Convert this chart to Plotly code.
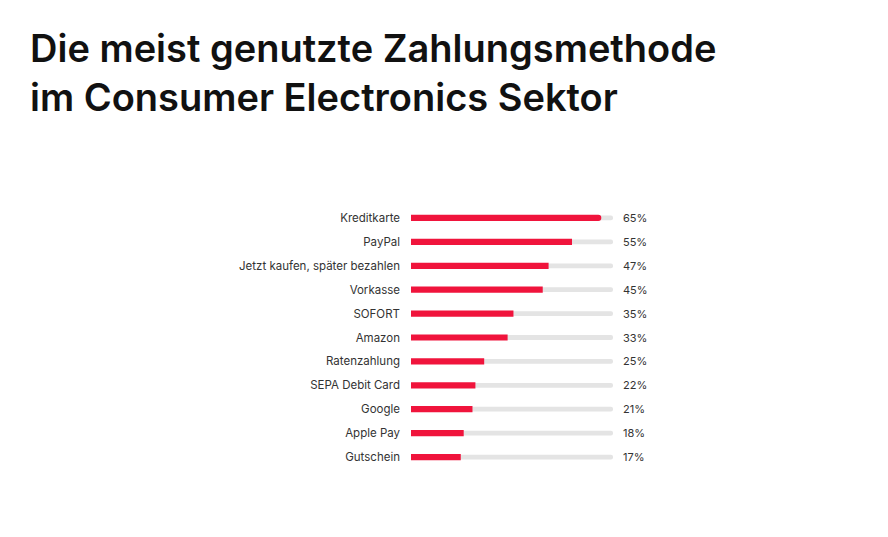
import plotly.graph_objects as go

methods = ['Kreditkarte', 'PayPal', 'Jetzt kaufen, später bezahlen', 'Vorkasse', 'SOFORT',
           'Amazon', 'Ratenzahlung', 'SEPA Debit Card', 'Google', 'Apple Pay', 'Gutschein']
shares = [65, 55, 47, 45, 35, 33, 25, 22, 21, 18, 17]
track_max = 69

RED = '#f0143c'
TRACK = '#e4e4e4'

fig = go.Figure()
# grey track behind every bar
fig.add_trace(go.Bar(x=[track_max] * len(methods), y=methods, orientation='h',
                     marker=dict(color=TRACK, cornerradius=3, line_width=0),
                     width=0.2, hoverinfo='skip', showlegend=False))
fig.add_trace(go.Bar(x=shares, y=methods, orientation='h',
                     marker=dict(color=RED, cornerradius=3, line_width=0),
                     width=0.26, showlegend=False,
                     hovertemplate='%{y}: %{x}%<extra></extra>'))

# percent labels right of the track
for m, v in zip(methods, shares):
    fig.add_annotation(x=1, xref='paper', y=m, yref='y', text=f'{v}%',
                       showarrow=False, xanchor='left', xshift=8,
                       font=dict(size=11, color='#333333'))

fig.update_layout(
    barmode='overlay',
    template='plotly_white',
    width=888, height=537,
    margin=dict(l=403, r=283, t=198, b=76),
    paper_bgcolor='white', plot_bgcolor='white',
    font=dict(family='Inter, Roboto, sans-serif', size=11.5, color='#333333'),
    title=dict(text='Die meist genutzte Zahlungsmethode<br>im Consumer Electronics Sektor',
               xref='container', yref='container', x=22 / 888, xanchor='left',
               y=1 - 54 / 537, yanchor='top',
               font=dict(family='Inter, sans-serif', size=38, color='#111111', weight=600)),
)
fig.update_xaxes(range=[0, track_max], visible=False, showgrid=False)
fig.update_yaxes(autorange='reversed', showgrid=False, zeroline=False, ticks='',
                 ticklabelstandoff=10, showline=False)

fig.write_html('out.html')
